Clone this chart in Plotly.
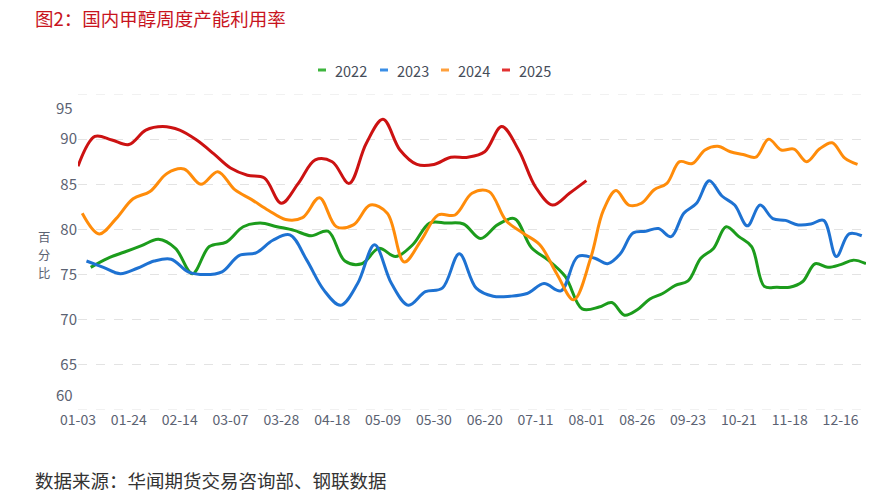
import datetime as dt
import plotly.graph_objects as go

# weekly report dates (Fridays) per year, shown as MM-DD
def fridays(start, n):
    d0 = dt.date.fromisoformat(start)
    return [(d0 + dt.timedelta(days=7 * i)).strftime("%m-%d") for i in range(n)]

dates_2022 = fridays("2022-01-07", 52)
dates_2023 = fridays("2023-01-06", 52)
dates_2024 = fridays("2024-01-05", 52)
dates_2025 = fridays("2025-01-03", 31)

v2022 = [75.8, 76.8, 77.5, 78.2, 78.9, 77.9, 75.1, 78.1, 78.6, 80.3, 80.7, 80.3, 79.9, 79.3,
         79.8, 76.5, 76.2, 77.9, 77.0, 78.3, 80.7, 80.7, 80.6, 79.0, 80.5, 81.2, 78.0, 76.6,
         74.8, 71.2, 71.4, 71.9, 70.5, 71.1, 72.3, 72.9, 73.8, 74.3, 76.8, 77.9, 80.3, 79.2,
         78.1, 73.7, 73.6, 73.6, 74.2, 76.2, 75.8, 76.1, 76.6, 76.2]
v2023 = [76.5, 75.8, 75.1, 75.7, 76.5, 76.7, 75.3, 75.0, 75.3, 77.1, 77.4, 78.8, 79.4, 76.6,
         73.3, 71.6, 74.0, 78.3, 74.0, 71.6, 73.1, 73.5, 77.3, 73.5, 72.6, 72.6, 72.9, 74.0,
         73.2, 77.0, 76.8, 76.2, 77.3, 79.6, 79.8, 80.1, 79.2, 81.8, 82.9, 85.4, 83.7, 82.7,
         80.4, 82.7, 81.2, 81.0, 80.5, 80.6, 81.0, 77.0, 79.5, 79.3]
v2024 = [81.8, 79.5, 81.2, 83.4, 84.2, 86.2, 86.7, 85.0, 86.4, 84.4, 83.3, 82.1, 81.1, 81.3,
         83.5, 80.3, 80.5, 82.7, 81.8, 76.4, 78.8, 81.6, 81.6, 84.0, 84.2, 81.0, 79.6, 78.3,
         75.1, 72.2, 76.8, 82.1, 84.3, 82.7, 82.9, 84.4, 85.1, 87.5, 87.3, 88.8, 89.2, 88.6,
         88.3, 88.0, 90.0, 88.8, 88.9, 87.5, 88.9, 89.6, 87.9, 87.2]
v2025 = [87.0, 90.3, 89.9, 89.4, 91.0, 91.4, 91.0, 89.9, 88.4, 86.8, 86.0, 85.7, 82.9, 85.1,
         87.7, 87.5, 85.1, 89.5, 92.2, 88.8, 87.2, 87.2, 88.0, 88.0, 88.6, 91.4, 88.8, 84.7,
         82.7, 84.0, 85.4]

series_names = ["2022", "2023", "2024", "2025"]
series_dates = [dates_2022, dates_2023, dates_2024, dates_2025]
series_vals = [v2022, v2023, v2024, v2025]
line_colors = ["#1c9c1c", "#1e72d2", "#ff8c0a", "#cc1212"]
legend_colors = ["#3db53d", "#3a8ee6", "#ffa03c", "#e23232"]

categories = sorted(set(dates_2022) | set(dates_2023) | set(dates_2024) | set(dates_2025))
tick_cats = categories[::12]

y_min, y_max = 60, 95
y_ticks = [60, 65, 70, 75, 80, 85, 90, 95]
y_text = ["", "65", "70", "75", "80", "85", "90", ""]

W, H = 880, 495
ML, MR, MT, MB = 78, 14, 94, 85
PW, PH = W - ML - MR, H - MT - MB


def px_x(p):  # pixel -> paper x
    return (p - ML) / PW


def px_y(p):  # pixel -> paper y
    return (H - MB - p) / PH


fig = go.Figure()
for name, xs, ys, col in zip(series_names, series_dates, series_vals, line_colors):
    fig.add_trace(go.Scatter(x=xs, y=ys, name=name, mode="lines", showlegend=False,
                             line=dict(color=col, width=3, shape="spline", smoothing=1.0)))

fig.update_layout(
    width=W, height=H,
    margin=dict(l=ML, r=MR, t=MT, b=MB),
    paper_bgcolor="white", plot_bgcolor="white",
    font=dict(family="Noto Sans CJK SC, Noto Sans, sans-serif", color="#5b6272"),
    showlegend=False,
    xaxis=dict(type="category", categoryorder="array", categoryarray=categories,
               range=[0, len(categories) - 1], tickvals=tick_cats, ticktext=tick_cats,
               showgrid=False, zeroline=False, showline=False, ticks="",
               tickfont=dict(size=14, color="#5b6272")),
    yaxis=dict(range=[y_min, y_max], tickvals=y_ticks, ticktext=y_text,
               showgrid=True, gridcolor="#e3e3e3", griddash="dash", gridwidth=1,
               zeroline=False, showline=False, ticks="",
               tickfont=dict(size=15, color="#5b6272")),
)

anns = [
    dict(text="图2：国内甲醇周度产能利用率", xref="paper", yref="paper", x=px_x(33), y=px_y(18),
         xanchor="left", yanchor="middle", showarrow=False,
         font=dict(size=18.5, color="#c8141e", family="Noto Sans CJK SC")),
    dict(text="数据来源：华闻期货交易咨询部、钢联数据", xref="paper", yref="paper", x=px_x(33), y=px_y(480),
         xanchor="left", yanchor="middle", showarrow=False,
         font=dict(size=18.5, color="#333333", family="Noto Sans CJK SC")),
    dict(text="95", xref="paper", yref="y", x=0, y=y_max, xanchor="right", yanchor="middle",
         xshift=-3, yshift=-13, showarrow=False, font=dict(size=15, color="#5b6272")),
    dict(text="60", xref="paper", yref="y", x=0, y=y_min, xanchor="right", yanchor="middle",
         xshift=-3, yshift=16, showarrow=False, font=dict(size=15, color="#5b6272")),
]
# vertical axis title, one character per line
for ch, py in zip("百分比", [237, 255, 273]):
    anns.append(dict(text=ch, xref="paper", yref="paper", x=px_x(44), y=px_y(py),
                     xanchor="center", yanchor="middle", showarrow=False, borderpad=0,
                     font=dict(size=12.4, color="#5b6272")))

# dashed boundary lines at axis min / max
shapes = []
for yv in (y_min, y_max):
    shapes.append(dict(type="line", xref="paper", yref="y", x0=0, x1=1, y0=yv, y1=yv,
                       line=dict(color="#e3e3e3", width=1, dash="dash"), layer="below"))

# custom legend: short line marker + label
leg_x = [318, 380, 441, 502]
for name, col, lx in zip(series_names, legend_colors, leg_x):
    shapes.append(dict(type="line", xref="paper", yref="paper",
                       x0=px_x(lx), x1=px_x(lx + 8), y0=px_y(70), y1=px_y(70),
                       line=dict(color=col, width=3)))
    anns.append(dict(text=name, xref="paper", yref="paper", x=px_x(lx + 15), y=px_y(70),
                     xanchor="left", yanchor="middle", showarrow=False,
                     font=dict(size=14.5, color="#464d5a")))

fig.update_layout(annotations=anns, shapes=shapes)

fig.write_html("out.html", config={"displayModeBar": False},
               post_script="document.body.style.margin='0px';")
